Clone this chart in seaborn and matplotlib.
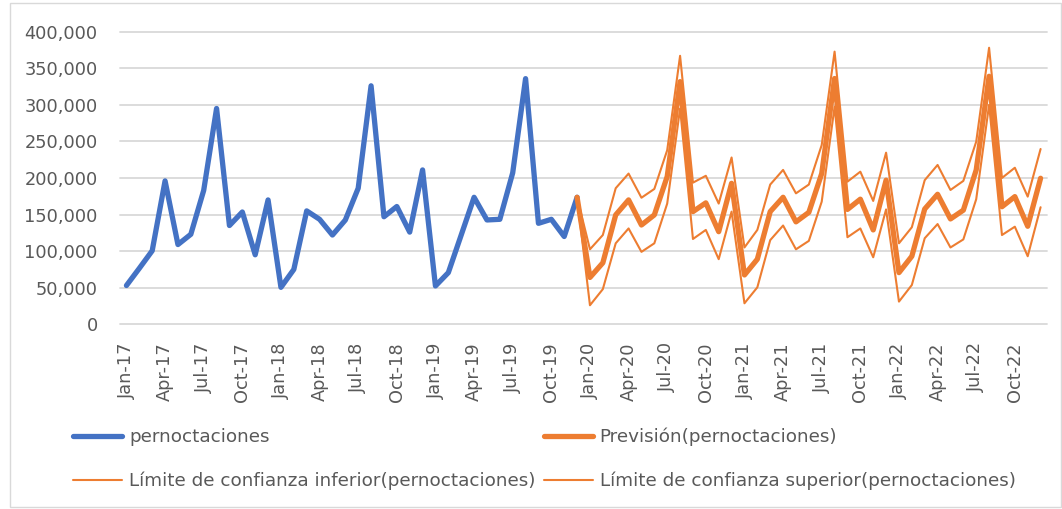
import pandas as pd
import seaborn as sns
import matplotlib.pyplot as plt
from matplotlib.patches import Rectangle
from matplotlib.ticker import FuncFormatter

# Monthly overnight stays, Jan-17 .. Dec-19
pernoctaciones = [53000, 76500, 100500, 196000, 109000, 123000, 183000, 295000, 135000, 153500, 95000, 170000,
                  50500, 75000, 155000, 143500, 122000, 142500, 186000, 326000, 147000, 161000, 126000, 211000,
                  52400, 70600, 122000, 173600, 142600, 143500, 207000, 335800, 138000, 143500, 120000, 173600]
# Forecast and confidence limits, Dec-19 .. Dec-22
prevision = [173600,
             64000, 84000, 149500, 170000, 135700, 149500, 202000, 331700, 154000, 166000, 126600, 192700,
             67400, 89000, 154000, 173600, 140000, 153000, 206000, 336000, 157000, 171000, 129000, 197000,
             70600, 93000, 157600, 177700, 144000, 156000, 211000, 339000, 160700, 174500, 134000, 199600]
limite_inf = [173600,
              26000, 48000, 110700, 131000, 99000, 110700, 165000, 295000, 116600, 129000, 89000, 154000,
              28700, 50500, 115000, 135000, 102500, 114000, 167600, 297500, 119000, 131000, 91600, 157000,
              31000, 53700, 117600, 137000, 105000, 116000, 171000, 300000, 122000, 133400, 93000, 160000]
limite_sup = [173600,
              102500, 122000, 186000, 206000, 173000, 185000, 238000, 367000, 193600, 203000, 165000, 228000,
              105000, 129000, 191000, 211000, 179000, 191000, 245000, 372700, 195000, 208600, 168600, 234600,
              110700, 132600, 197000, 217800, 183600, 196000, 249600, 378000, 200000, 214000, 174500, 239600]
tick_labels = ['Jan-17', 'Apr-17', 'Jul-17', 'Oct-17', 'Jan-18', 'Apr-18', 'Jul-18', 'Oct-18',
               'Jan-19', 'Apr-19', 'Jul-19', 'Oct-19', 'Jan-20', 'Apr-20', 'Jul-20', 'Oct-20',
               'Jan-21', 'Apr-21', 'Jul-21', 'Oct-21', 'Jan-22', 'Apr-22', 'Jul-22', 'Oct-22']

hist = pd.DataFrame({'mes': range(len(pernoctaciones)), 'valor': pernoctaciones})
start = len(pernoctaciones) - 1
fc = pd.DataFrame({'mes': range(start, start + len(prevision)),
                   'prev': prevision, 'inf': limite_inf, 'sup': limite_sup})

sns.set_style('white')
plt.rcParams['font.family'] = ['DejaVu Sans']

blue = '#4472C4'
orange = '#ED7D31'
grey_txt = '#595959'

fig = plt.figure(figsize=(10.62, 5.09), dpi=100)
ax = fig.add_axes([0.113, 0.3629, 0.8729, 0.5749])

common = dict(solid_joinstyle='round', solid_capstyle='round')
sns.lineplot(data=hist, x='mes', y='valor', ax=ax, color=blue, linewidth=3.8,
             label='pernoctaciones', **common)
sns.lineplot(data=fc, x='mes', y='prev', ax=ax, color=orange, linewidth=3.8,
             label='Previsión(pernoctaciones)', **common)
sns.lineplot(data=fc, x='mes', y='inf', ax=ax, color=orange, linewidth=1.5,
             label='Límite de confianza inferior(pernoctaciones)', **common)
sns.lineplot(data=fc, x='mes', y='sup', ax=ax, color=orange, linewidth=1.5,
             label='Límite de confianza superior(pernoctaciones)', **common)

ax.set_xlim(-0.5, 71.5)
ax.set_ylim(0, 400000)
ax.set_yticks(range(0, 400001, 50000))
ax.yaxis.set_major_formatter(FuncFormatter(lambda v, p: f'{int(v):,}'))
ax.set_xticks(range(0, 72, 3))
ax.set_xticklabels(tick_labels, rotation=90)
ax.tick_params(axis='both', length=0, labelsize=12.8, labelcolor=grey_txt)
ax.tick_params(axis='y', pad=16)
ax.tick_params(axis='x', pad=13)
ax.set_xlabel('')
ax.set_ylabel('')
ax.grid(axis='y', color='#d9d9d9', linewidth=1.3)
ax.grid(axis='x', visible=False)
ax.set_axisbelow(True)
for s in ax.spines.values():
    s.set_visible(False)
for gl in ax.get_ygridlines():
    gl.set_clip_on(False)

handles, labels = ax.get_legend_handles_labels()
ax.get_legend().remove()
order = [0, 2, 1, 3]
fig.legend([handles[i] for i in order], [labels[i] for i in order], ncol=2,
           loc='upper left', bbox_to_anchor=(0.0687, 0.160), frameon=False,
           fontsize=13.2, labelcolor=grey_txt, handlelength=2.7, handletextpad=0.35,
           columnspacing=0.45, labelspacing=1.4, borderpad=0, borderaxespad=0)

fig.patches.append(Rectangle((0.009, 0.004), 0.99, 0.99, transform=fig.transFigure,
                             fill=False, edgecolor='#d9d9d9', linewidth=1))

plt.savefig('out.png', dpi=100)
